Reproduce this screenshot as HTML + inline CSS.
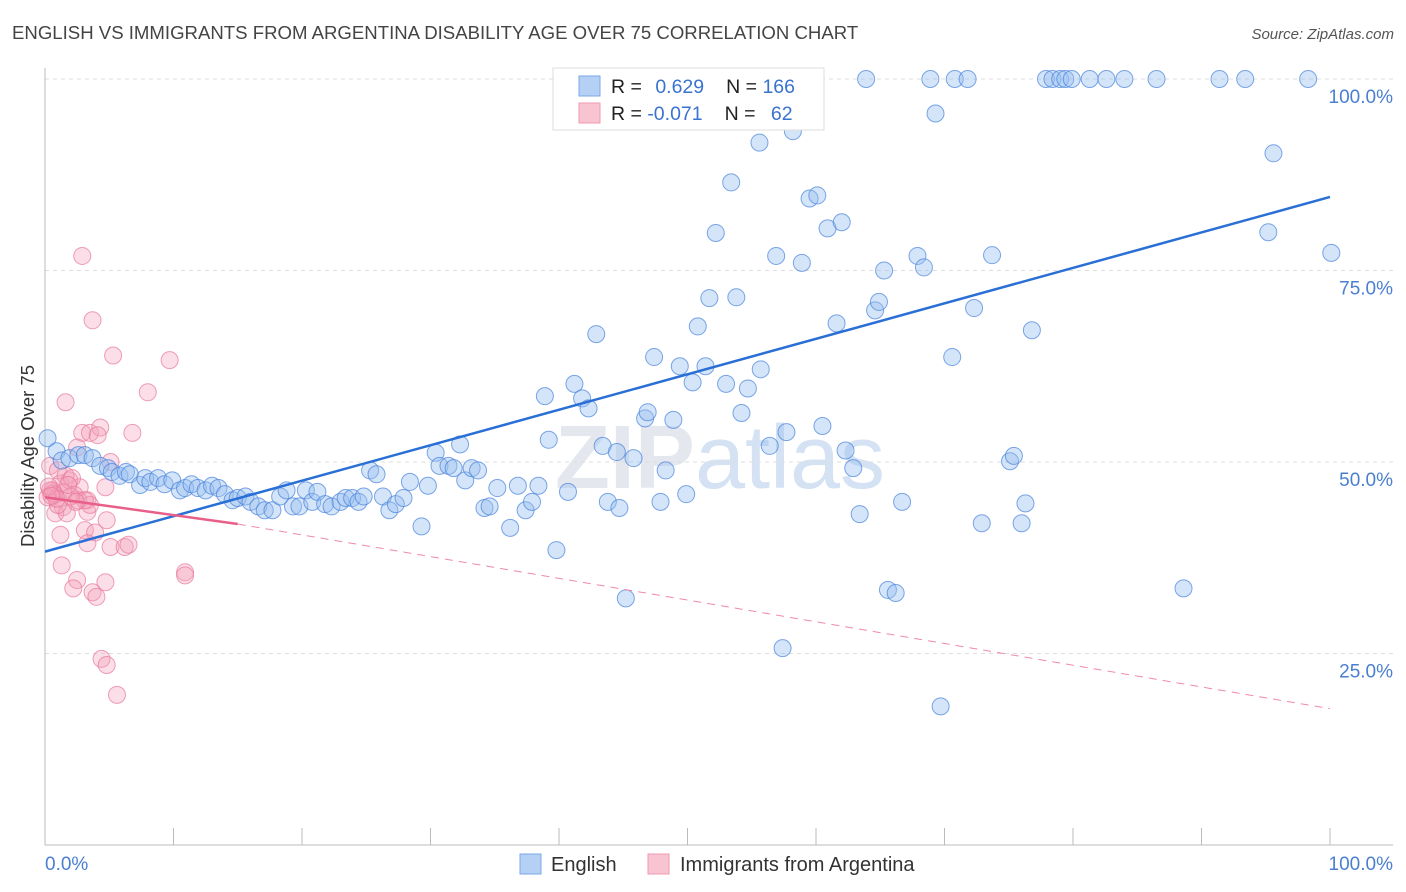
<!DOCTYPE html>
<html><head><meta charset="utf-8"><style>
body{margin:0;background:#fff;font-family:"Liberation Sans",sans-serif;}
svg{display:block}
</style></head><body>
<svg id="c" width="1406" height="892">
<text x="12" y="39" font-size="18.6" fill="#444">ENGLISH VS IMMIGRANTS FROM ARGENTINA DISABILITY AGE OVER 75 CORRELATION CHART</text>
<text x="1394" y="39" font-size="15" fill="#555" font-style="italic" text-anchor="end">Source: ZipAtlas.com</text>
<text x="720" y="488" font-size="90" fill="#e4e8ee" text-anchor="middle" font-weight="bold">ZIP<tspan fill="#d4e2f4" font-weight="normal">atlas</tspan></text>
<g id="grid"></g>
<g id="axes"></g>
<g id="pts"></g>
<g id="lines"></g>
<text transform="translate(34,456) rotate(-90)" font-size="18.5" fill="#333" text-anchor="middle">Disability Age Over 75</text>
<g>
<rect x="553" y="68" width="271" height="62" fill="#fff" stroke="#ddd"/>
<rect x="579" y="76" width="21" height="20" fill="#b5d0f5" stroke="#7aa8e8"/>
<rect x="579" y="103" width="21" height="20" fill="#f9c4d2" stroke="#ee9ab2"/>
<text x="611" y="93" font-size="19.5" fill="#222">R = <tspan fill="#3a72d0" dx="8">0.629</tspan><tspan dx="22" fill="#222">N = </tspan><tspan fill="#3a72d0">166</tspan></text>
<text x="611" y="120" font-size="19.5" fill="#222">R = <tspan fill="#3a72d0">-0.071</tspan><tspan dx="22" fill="#222">N = </tspan><tspan fill="#3a72d0" dx="10">62</tspan></text>
</g>
<g>
<rect x="520" y="854" width="21" height="20" fill="#b5d0f5" stroke="#7aa8e8"/>
<text x="551" y="871" font-size="20" fill="#333">English</text>
<rect x="648" y="854" width="21" height="20" fill="#f9c4d2" stroke="#ee9ab2"/>
<text x="680" y="871" font-size="20" fill="#333">Immigrants from Argentina</text>
</g>
</svg>
<script>
const yTicks=[25,50,75,100];
const yTickLabels=["25.0%","50.0%","75.0%","100.0%"];
const xTicks=[0,10,20,30,40,50,60,70,80,90,100];
const xEndLabels=["0.0%","100.0%"];
const blueX=[0.2,0.9,1.3,1.9,2.6,3.1,3.7,4.3,4.9,5.2,5.8,6.3,6.6,7.4,7.8,8.2,8.8,9.3,9.9,10.5,10.9,11.4,11.9,12.5,13.0,13.5,14.0,14.6,15.0,15.6,16.0,16.6,17.1,17.7,18.3,18.8,19.3,19.8,20.3,20.8,21.2,21.8,22.3,23.0,23.4,23.9,24.4,24.8,25.3,25.8,26.3,26.8,27.3,27.9,28.4,29.3,29.8,30.4,30.7,31.4,31.8,32.3,32.7,33.2,33.7,34.2,34.6,35.2,36.2,36.8,37.4,37.9,38.4,38.9,39.2,39.8,40.7,41.2,41.8,42.3,42.9,43.4,43.8,44.5,44.7,45.2,45.8,46.7,46.9,47.4,47.9,48.3,48.9,49.4,49.9,50.4,50.8,51.4,51.7,52.2,53.0,53.4,53.8,54.2,54.7,55.6,55.7,56.4,56.9,57.7,58.2,57.4,58.9,59.5,60.1,60.5,60.9,61.6,62.0,62.3,62.9,63.4,63.9,64.6,64.9,65.3,65.6,66.2,66.7,67.9,68.4,68.9,69.3,69.7,70.6,70.8,71.8,72.3,72.9,73.7,75.1,75.4,76.0,76.3,76.8,77.9,78.4,79.0,79.4,79.9,81.3,82.6,84.0,86.5,88.6,91.4,93.4,95.2,95.6,98.3,100.1];
const blueY=[53.1,51.4,50.2,50.5,50.9,50.9,50.5,49.5,49.2,48.7,48.2,48.7,48.4,47.0,47.9,47.4,47.9,47.1,47.6,46.3,46.6,47.1,46.6,46.3,46.9,46.6,45.8,45.0,45.3,45.5,44.8,44.2,43.7,43.7,45.5,46.3,44.2,44.2,46.3,44.8,46.1,44.5,44.2,44.8,45.3,45.3,44.8,45.5,48.9,48.4,45.5,43.7,44.5,45.3,47.4,41.6,46.9,51.2,49.5,49.5,49.2,52.3,47.6,49.2,48.9,44.0,44.2,46.6,41.4,46.9,43.7,44.8,46.9,58.6,52.9,38.5,46.1,60.2,58.3,57.0,66.7,52.1,44.8,51.3,44.0,32.2,50.5,55.7,56.5,63.7,44.8,48.9,55.5,62.5,45.8,60.4,67.7,62.5,71.4,79.9,60.2,86.5,71.5,56.4,59.6,91.7,62.1,52.1,76.9,53.9,93.2,25.7,76.0,84.4,84.8,54.7,80.5,68.1,81.3,51.5,49.2,43.2,100,69.8,70.9,75.0,33.3,32.9,44.8,76.9,75.4,100,95.5,18.1,63.7,100,100,70.1,42.0,77.0,50.1,50.8,42.0,44.6,67.2,100,100,100,100,100,100,100,100,100,33.5,100,100,80.0,90.3,100,77.3];
const pinkX=[1.6,2.9,3.5,4.3,4.1,6.8,5.1,2.5,4.7,0.6,1.2,1.9,2.7,3.3,1.4,0.8,1.7,3.3,4.8,1.2,3.1,3.9,3.3,5.1,6.2,6.5,1.3,2.5,2.2,4.7,3.7,4.0,10.9,10.9,4.4,4.8,5.6,2.9,3.7,5.3,9.7,8.0,0.4,0.4,0.8,0.2,1.0,1.6,2.1,2.3,2.6,1.0,3.5,3.1,0.6,1.4,2.0,0.9,0.3,1.8,2.4,0.5];
const pinkY=[57.8,53.8,53.8,54.5,53.5,53.8,50.0,51.9,46.7,46.3,47.2,47.6,46.7,45.0,44.1,43.3,43.3,43.5,42.4,40.5,41.1,40.8,39.4,38.9,38.9,39.2,36.5,34.6,33.5,34.3,33.0,32.4,35.6,35.2,24.3,23.5,19.6,76.9,68.5,63.9,63.3,59.1,49.5,46.3,45.7,45.4,48.9,48.2,47.9,45.7,45.0,44.4,44.4,45.0,45.9,46.0,45.5,45.2,46.8,47.0,44.8,45.6];
const blueTrend=[38.3,84.6];
const pinkTrend=[45.4,41.9,17.8];
const pinkSolidEnd=15;
const NS="http://www.w3.org/2000/svg";
const X0=45,X1=1330,Y0=845,Y100=79;
const sx=v=>X0+(X1-X0)*v/100;
const sy=v=>Y0-(Y0-Y100)*v/100;
function mk(tag,attrs,parent){const e=document.createElementNS(NS,tag);for(const k in attrs)e.setAttribute(k,attrs[k]);parent.appendChild(e);return e;}
const grid=document.getElementById('grid'),axes=document.getElementById('axes'),pts=document.getElementById('pts'),lines=document.getElementById('lines');
yTicks.forEach((t,i)=>{
 const l=mk('line',{x1:X0,x2:1393,y1:sy(t),y2:sy(t),stroke:'#ddd','stroke-dasharray':'4,4'},grid);
 
 
 const tx=mk('text',{x:1393,y:sy(t)+24,'font-size':19,fill:'#4a7fd0','text-anchor':'end'},axes);
 tx.textContent=yTickLabels[i];
 
 
});
const ya=mk('line',{x1:X0,x2:X0,y1:68,y2:Y0,stroke:'#bbb'},axes);


const xa=mk('line',{x1:X0,x2:1393,y1:Y0,y2:Y0,stroke:'#bbb'},axes);


xTicks.forEach(t=>{
 const k=mk('line',{x1:sx(t),x2:sx(t),y1:828,y2:Y0,stroke:'#bbb'},axes);
 
 
});
[[0,'start',X0],[1,'end',1393]].forEach(([i,a,x])=>{
 const tx=mk('text',{x:x,y:870,'font-size':19,fill:'#4a7fd0','text-anchor':a},axes);
 tx.textContent=xEndLabels[i];
 
 
});
pinkX.forEach((v,i)=>{
 const c=mk('circle',{cx:sx(v),cy:sy(pinkY[i]),r:8.5,fill:'rgba(244,160,185,0.35)',stroke:'rgba(232,120,155,0.7)','stroke-width':1},pts);
 
 
});
blueX.forEach((v,i)=>{
 const c=mk('circle',{cx:sx(v),cy:sy(blueY[i]),r:8.5,fill:'rgba(150,190,240,0.4)',stroke:'rgba(70,130,220,0.7)','stroke-width':1},pts);
 
 
});
const bl=mk('line',{x1:sx(0),y1:sy(blueTrend[0]),x2:sx(100),y2:sy(blueTrend[1]),stroke:'#2a6fd6','stroke-width':2.5},lines);


const pl=mk('line',{x1:sx(0),y1:sy(pinkTrend[0]),x2:sx(pinkSolidEnd),y2:sy(pinkTrend[1]),stroke:'#e8608a','stroke-width':2.5},lines);


const pd=mk('line',{x1:sx(pinkSolidEnd),y1:sy(pinkTrend[1]),x2:sx(100),y2:sy(pinkTrend[2]),stroke:'#f08aa8','stroke-width':1,'stroke-dasharray':'8,6'},lines);


</script>
</body></html>
